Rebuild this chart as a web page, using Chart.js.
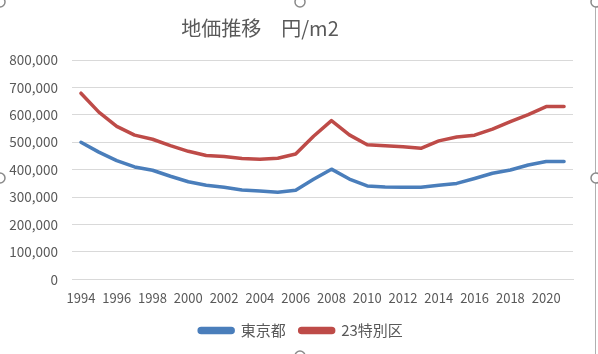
<!DOCTYPE html>
<html><head><meta charset="utf-8">
<script src="https://cdn.jsdelivr.net/npm/chart.js@4"></script>
<style>html,body{margin:0;padding:0;background:#fff;}#wrap{width:598px;height:354px;position:relative;}</style>
</head><body><div id="wrap"><canvas id="c" width="598" height="354"></canvas></div>
<script>
const categories = ["1994","1995","1996","1997","1998","1999","2000","2001","2002","2003","2004","2005","2006","2007","2008","2009","2010","2011","2012","2013","2014","2015","2016","2017","2018","2019","2020","2021"];
const tokyoValues = [500000,464000,433000,410000,398000,376000,356000,343000,336000,326000,322000,318000,325000,365000,402000,366000,341000,337000,336000,336000,343000,350000,368000,387000,399000,417000,430000,430000];
const wardsValues = [679000,610000,558000,526000,511000,488000,467000,452000,448000,441000,438000,442000,457000,522000,579000,527000,491000,487000,484000,478000,505000,519000,526000,548000,575000,601000,630000,630000];
const seriesNames = ["東京都","23特別区"];
const titleText = "地価推移　円/m2";

const font = "'Noto Sans CJK JP','Noto Sans',sans-serif";
const titlePlugin = {
  id:'titleText',
  afterLayout(chart){
    if (chart.legend) { chart.legend.left += 11; chart.legend.right += 11; }
  },
  afterDraw(chart){
    const c = chart.ctx;
    c.save();
    c.fillStyle = '#595959';
    c.font = "20px " + font;
    c.textAlign = 'center'; c.textBaseline = 'middle';
    c.fillText(titleText, 260, 28);
    c.restore();
  }
};
const handles = {
  id:'handles',
  afterDraw(chart){
    const c = chart.ctx;
    c.save();
    c.strokeStyle = '#b0b0b0'; c.lineWidth = 1;
    c.beginPath(); c.moveTo(595.5,6); c.lineTo(595.5,354); c.stroke();
    c.strokeStyle = '#8a8a8a'; c.lineWidth = 1.5;
    [[0,178],[596,178],[300,2],[596,2],[0,2],[300,356]].forEach(p=>{
      c.beginPath(); c.arc(p[0],p[1],5,0,Math.PI*2); c.fillStyle='#fff'; c.fill(); c.stroke();
    });
    c.restore();
  }
};
new Chart(document.getElementById('c'), {
  type:'line',
  data:{labels:categories, datasets:[
    {label:seriesNames[0], data:tokyoValues, borderColor:'#4a7ebb', backgroundColor:'#4a7ebb', borderWidth:3.5, pointRadius:0, tension:0, borderCapStyle:'round', borderJoinStyle:'round'},
    {label:seriesNames[1], data:wardsValues, borderColor:'#be4b48', backgroundColor:'#be4b48', borderWidth:3.5, pointRadius:0, tension:0, borderCapStyle:'round', borderJoinStyle:'round'}
  ]},
  options:{
    responsive:false, animation:false, devicePixelRatio:1,
    layout:{padding:{left:7,right:25,top:60,bottom:6}},
    plugins:{
      title:{display:false},
      legend:{position:'bottom', labels:{color:'#595959', font:{family:font,size:15}, boxWidth:34, boxHeight:4, padding:14, useBorderRadius:true, borderRadius:2}},
      tooltip:{enabled:false}
    },
    scales:{
      x:{offset:true, grid:{display:false}, border:{color:'#d9d9d9'},
        ticks:{color:'#595959', font:{family:font,size:13}, autoSkip:false, maxRotation:0, minRotation:0,
          callback:function(v,i){return i%2===0?categories[i]:'';}}},
      y:{min:0,max:800000, grid:{color:'#d9d9d9', drawTicks:false}, border:{display:false},
        afterFit:function(s){s.width=65;},
        ticks:{stepSize:100000, color:'#595959', font:{family:font,size:13.5}, padding:14,
          callback:v=>v.toLocaleString('en-US')}}
    }
  },
  plugins:[titlePlugin, handles]
});
</script></body></html>
